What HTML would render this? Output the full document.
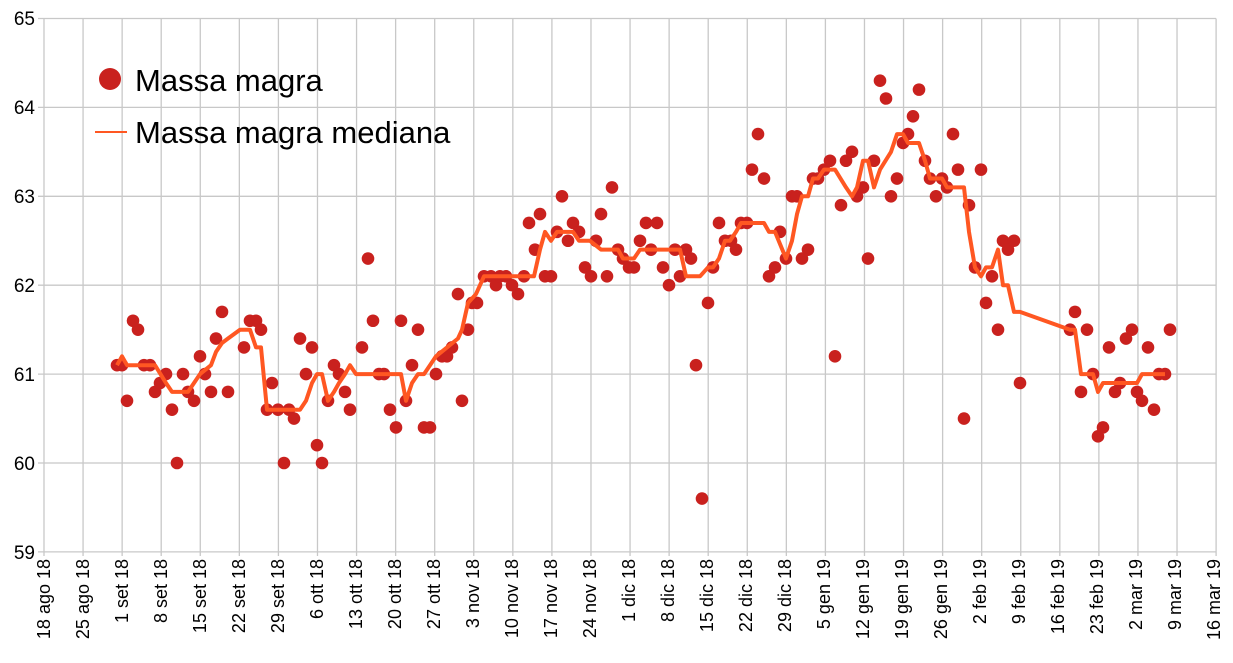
<!DOCTYPE html>
<html><head><meta charset="utf-8"><style>
body{margin:0;background:#fff}
svg{display:block;font-family:"Liberation Sans",Arial,sans-serif}
</style></head><body>
<svg id="s" width="1233" height="663" viewBox="0 0 1233 663">
<g id="grid" stroke="#c8c8c8" stroke-width="1.3"></g>
<g font-size="19" text-anchor="end" fill="#000">
<text x="35" y="25">65</text><text x="35" y="114">64</text><text x="35" y="203">63</text>
<text x="35" y="292">62</text><text x="35" y="381">61</text><text x="35" y="470">60</text><text x="35" y="559">59</text>
</g>
<g id="xl" font-size="18" text-anchor="end" fill="#000">
<text transform="translate(50,559) rotate(-90)">18 ago 18</text>
<text transform="translate(89,559) rotate(-90)">25 ago 18</text>
<text transform="translate(128,559) rotate(-90)">1 set 18</text>
<text transform="translate(167,559) rotate(-90)">8 set 18</text>
<text transform="translate(206,559) rotate(-90)">15 set 18</text>
<text transform="translate(245,559) rotate(-90)">22 set 18</text>
<text transform="translate(284,559) rotate(-90)">29 set 18</text>
<text transform="translate(323,559) rotate(-90)">6 ott 18</text>
<text transform="translate(362,559) rotate(-90)">13 ott 18</text>
<text transform="translate(401,559) rotate(-90)">20 ott 18</text>
<text transform="translate(440,559) rotate(-90)">27 ott 18</text>
<text transform="translate(479,559) rotate(-90)">3 nov 18</text>
<text transform="translate(518,559) rotate(-90)">10 nov 18</text>
<text transform="translate(557,559) rotate(-90)">17 nov 18</text>
<text transform="translate(596,559) rotate(-90)">24 nov 18</text>
<text transform="translate(635,559) rotate(-90)">1 dic 18</text>
<text transform="translate(674,559) rotate(-90)">8 dic 18</text>
<text transform="translate(713,559) rotate(-90)">15 dic 18</text>
<text transform="translate(752,559) rotate(-90)">22 dic 18</text>
<text transform="translate(791,559) rotate(-90)">29 dic 18</text>
<text transform="translate(830,559) rotate(-90)">5 gen 19</text>
<text transform="translate(869,559) rotate(-90)">12 gen 19</text>
<text transform="translate(908,559) rotate(-90)">19 gen 19</text>
<text transform="translate(947,559) rotate(-90)">26 gen 19</text>
<text transform="translate(986,559) rotate(-90)">2 feb 19</text>
<text transform="translate(1025,559) rotate(-90)">9 feb 19</text>
<text transform="translate(1064,559) rotate(-90)">16 feb 19</text>
<text transform="translate(1103,559) rotate(-90)">23 feb 19</text>
<text transform="translate(1142,559) rotate(-90)">2 mar 19</text>
<text transform="translate(1181,559) rotate(-90)">9 mar 19</text>
<text transform="translate(1220,559) rotate(-90)">16 mar 19</text>
</g>
<g id="dots" fill="#c9211e"></g>
<polyline id="ln" fill="none" stroke="#ff5722" stroke-width="4" stroke-linejoin="round"/>
<circle cx="110" cy="79" r="11" fill="#c9211e"/>
<text x="135" y="91" font-size="31">Massa magra</text>
<line x1="95" y1="132" x2="127" y2="132" stroke="#ff5722" stroke-width="2"/>
<text x="135" y="143" font-size="31">Massa magra mediana</text>
</svg>
<script>
var Y=function(v){return 18.5+(65-v)*88.9};
var g=document.getElementById('grid'),h='';
for(var i=0;i<=30;i++){var x=44+i*39.07;h+='<line x1="'+x+'" y1="18.5" x2="'+x+'" y2="556"/>';}
for(var j=0;j<=6;j++){var y=Y(65-j);h+='<line x1="38" y1="'+y+'" x2="1216" y2="'+y+'"/>';}
g.innerHTML=h;
var D=[117,61.1,122,61.1,127,60.7,133,61.6,138,61.5,144,61.1,150,61.1,155,60.8,160,60.9,166,61.0,172,60.6,177,60.0,183,61.0,188,60.8,194,60.7,200,61.2,205,61.0,211,60.8,216,61.4,222,61.7,228,60.8,244,61.3,250,61.6,256,61.6,261,61.5,267,60.6,272,60.9,278,60.6,284,60.0,289,60.6,294,60.5,300,61.4,306,61.0,312,61.3,317,60.2,322,60.0,328,60.7,334,61.1,339,61.0,345,60.8,350,60.6,362,61.3,368,62.3,373,61.6,379,61.0,384,61.0,390,60.6,396,60.4,401,61.6,406,60.7,412,61.1,418,61.5,424,60.4,430,60.4,436,61.0,442,61.2,447,61.2,452,61.3,458,61.9,462,60.7,468,61.5,472,61.8,477,61.8,484,62.1,491,62.1,496,62.0,500,62.1,506,62.1,512,62.0,518,61.9,524,62.1,529,62.7,535,62.4,540,62.8,545,62.1,551,62.1,557,62.6,562,63.0,568,62.5,573,62.7,579,62.6,585,62.2,591,62.1,596,62.5,601,62.8,607,62.1,612,63.1,618,62.4,623,62.3,629,62.2,634,62.2,640,62.5,646,62.7,651,62.4,657,62.7,663,62.2,669,62.0,675,62.4,680,62.1,686,62.4,691,62.3,696,61.1,702,59.6,708,61.8,713,62.2,719,62.7,725,62.5,731,62.5,736,62.4,741,62.7,747,62.7,752,63.3,758,63.7,764,63.2,769,62.1,775,62.2,780,62.6,786,62.3,792,63.0,797,63.0,802,62.3,808,62.4,813,63.2,818,63.2,824,63.3,830,63.4,835,61.2,841,62.9,846,63.4,852,63.5,857,63.0,863,63.1,868,62.3,874,63.4,880,64.3,886,64.1,891,63.0,897,63.2,903,63.6,908,63.7,913,63.9,919,64.2,925,63.4,930,63.2,936,63.0,942,63.2,947,63.1,953,63.7,958,63.3,964,60.5,969,62.9,975,62.2,981,63.3,986,61.8,992,62.1,998,61.5,1003,62.5,1008,62.4,1014,62.5,1020,60.9,1070,61.5,1075,61.7,1081,60.8,1087,61.5,1093,61.0,1098,60.3,1103,60.4,1109,61.3,1115,60.8,1120,60.9,1126,61.4,1132,61.5,1137,60.8,1142,60.7,1148,61.3,1154,60.6,1159,61.0,1165,61.0,1170,61.5];
h='';for(i=0;i<D.length;i+=2)h+='<circle cx="'+D[i]+'" cy="'+Y(D[i+1])+'" r="6.3"/>';
document.getElementById('dots').innerHTML=h;
var L=[117,61.1,122,61.2,127,61.1,144,61.1,155,61.1,166,60.9,172,60.8,183,60.8,188,60.8,194,60.9,200,61.0,211,61.1,216,61.25,222,61.35,228,61.4,240,61.5,250,61.5,256,61.3,261,61.3,267,60.6,278,60.6,289,60.6,300,60.6,306,60.7,312,60.9,317,61.0,322,61.0,328,60.7,334,60.8,339,60.9,345,61.0,350,61.1,356,61.0,390,61.0,401,61.0,406,60.7,412,60.9,418,61.0,424,61.0,430,61.1,436,61.2,447,61.3,458,61.4,462,61.5,468,61.8,476,61.9,484,62.1,500,62.1,512,62.1,524,62.1,534,62.1,540,62.4,545,62.6,551,62.5,557,62.6,573,62.6,579,62.5,590,62.5,601,62.4,618,62.4,623,62.3,634,62.3,640,62.4,680,62.4,686,62.1,700,62.1,708,62.2,713,62.2,719,62.3,725,62.5,730,62.5,736,62.6,741,62.7,764,62.7,769,62.6,775,62.6,786,62.3,792,62.5,797,62.8,802,63.0,808,63.0,813,63.2,818,63.2,824,63.3,830,63.3,835,63.3,846,63.1,852,63.0,857,63.1,863,63.4,868,63.4,874,63.1,880,63.3,891,63.5,897,63.7,903,63.7,908,63.6,919,63.6,925,63.4,930,63.2,942,63.2,947,63.1,964,63.1,969,62.6,975,62.2,981,62.1,986,62.2,992,62.2,998,62.4,1003,62.0,1008,62.0,1014,61.7,1020,61.7,1070,61.5,1075,61.5,1081,61.0,1087,61.0,1093,61.0,1098,60.8,1103,60.9,1120,60.9,1132,60.9,1137,60.9,1142,61.0,1159,61.0,1165,61.0];
var p='';for(i=0;i<L.length;i+=2)p+=L[i]+','+Y(L[i+1]).toFixed(1)+' ';
document.getElementById('ln').setAttribute('points',p);
</script>
</body></html>
